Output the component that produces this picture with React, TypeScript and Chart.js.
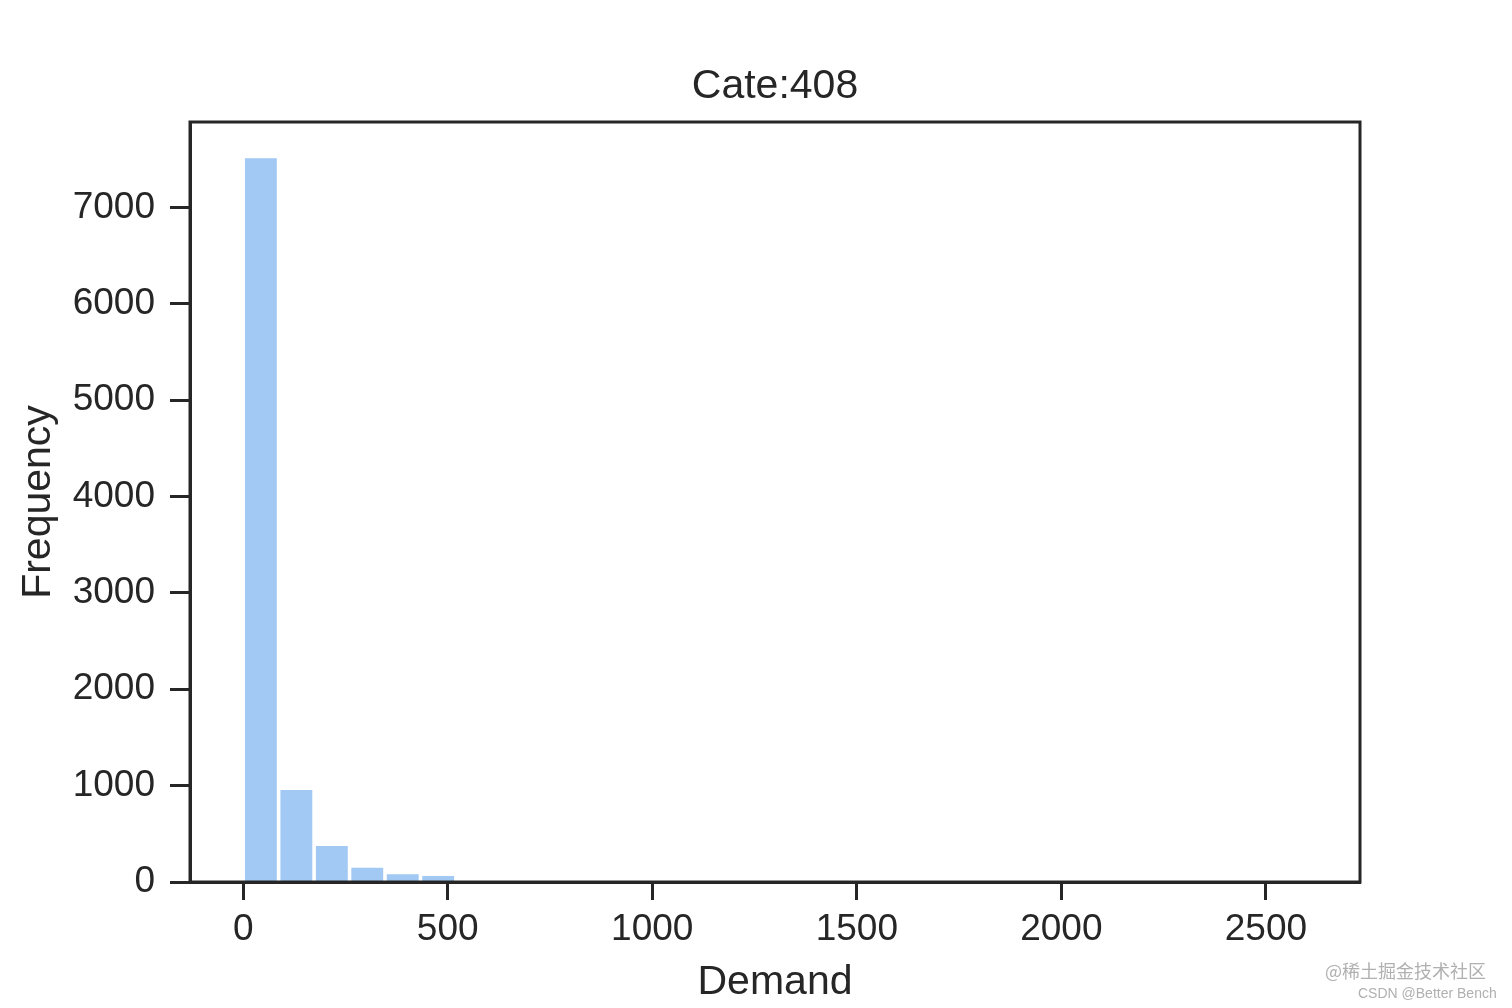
import React, { useEffect, useRef } from 'react';
import { Chart, registerables } from 'chart.js';

Chart.register(...registerables);

// Histogram bins (Demand) and their counts
const binCenters = [
  43.3, 130, 216.7, 303.3, 390, 476.7, 563.3, 650, 736.7, 823.3,
  910, 996.7, 1083.3, 1170, 1256.7, 1343.3, 1430, 1516.7, 1603.3, 1690,
  1776.7, 1863.3, 1950, 2036.7, 2123.3, 2210, 2296.7, 2383.3, 2470, 2556.7,
];
const frequencies = [
  7510, 954, 373, 148, 80, 62, 4, 3, 2, 2,
  1, 1, 1, 1, 0, 1, 0, 1, 0, 0,
  1, 0, 0, 0, 1, 0, 0, 0, 0, 1,
];
const xTickValues = [0, 500, 1000, 1500, 2000, 2500];
const yTickValues = [0, 1000, 2000, 3000, 4000, 5000, 6000, 7000];
const chartTitle = 'Cate:408';
const xLabel = 'Demand';
const yLabel = 'Frequency';
const watermark1 = '@稀土掘金技术社区';
const watermark2 = 'CSDN @Better Bench';

const FONT = '"Liberation Sans", Arial, Helvetica, sans-serif';
const INK = '#262626';
const BAR = '#a1c9f4';

const framePlugin = {
  id: 'frame',
  afterDraw(chart: any) {
    const { ctx, chartArea: a } = chart;
    ctx.save();
    ctx.strokeStyle = INK;
    ctx.lineWidth = 3;
    ctx.strokeRect(a.left, a.top, a.right - a.left, a.bottom - a.top);
    ctx.fillStyle = INK;
    ctx.font = `41px ${FONT}`;
    ctx.textAlign = 'center';
    ctx.textBaseline = 'middle';
    ctx.fillText(chartTitle, (a.left + a.right) / 2, 86.5);
    ctx.restore();
  },
};

export default function App() {
  const ref = useRef<HTMLCanvasElement | null>(null);

  useEffect(() => {
    if (!ref.current) return;
    const chart = new Chart(ref.current, {
      type: 'bar',
      data: {
        datasets: [
          {
            data: binCenters.map((x, i) => ({ x, y: frequencies[i] })),
            backgroundColor: BAR,
            borderWidth: 0,
            barPercentage: 0.9,
            categoryPercentage: 1,
          },
        ],
      },
      options: {
        responsive: false,
        animation: false,
        devicePixelRatio: 1,
        layout: { padding: { left: 0, right: 152, top: 122, bottom: 0 } },
        plugins: {
          legend: { display: false },
          tooltip: { enabled: false },
          title: { display: false },
        },
        scales: {
          x: {
            type: 'linear',
            min: -130,
            max: 2730,
            offset: false,
            afterFit(scale: any) {
              scale.height = 126;
            },
            afterBuildTicks(scale: any) {
              scale.ticks = xTickValues.map((v) => ({ value: v }));
            },
            grid: {
              display: true,
              offset: false,
              drawOnChartArea: false,
              drawTicks: true,
              tickLength: 18,
              tickWidth: 3,
              tickColor: INK,
            },
            border: { display: true, color: INK, width: 3 },
            ticks: {
              color: INK,
              font: { family: FONT, size: 37 },
              padding: 8,
              maxRotation: 0,
              autoSkip: false,
              callback: (v: any) => String(v),
            },
            title: {
              display: true,
              text: xLabel,
              color: INK,
              font: { family: FONT, size: 41 },
              padding: { top: 0, bottom: 1 },
            },
          },
          y: {
            type: 'linear',
            min: 0,
            max: 7885,
            afterFit(scale: any) {
              scale.width = 190;
            },
            afterBuildTicks(scale: any) {
              scale.ticks = yTickValues.map((v) => ({ value: v }));
            },
            grid: {
              display: true,
              offset: false,
              drawOnChartArea: false,
              drawTicks: true,
              tickLength: 20,
              tickWidth: 3,
              tickColor: INK,
            },
            border: { display: true, color: INK, width: 3 },
            ticks: {
              color: INK,
              font: { family: FONT, size: 37 },
              padding: 15,
              autoSkip: false,
              callback: (v: any) => String(v),
            },
            title: {
              display: true,
              text: yLabel,
              color: INK,
              font: { family: FONT, size: 41 },
              padding: { top: 14, bottom: 0 },
            },
          },
        },
      },
      plugins: [framePlugin],
    } as any);
    return () => chart.destroy();
  }, []);

  return (
    <div style={{ position: 'absolute', left: 0, top: 0, width: 1512, height: 1008, background: '#fff' }}>
      <canvas ref={ref} width={1512} height={1008} style={{ display: 'block' }} />
      <div
        style={{
          position: 'absolute',
          left: 1325,
          top: 957,
          fontFamily: '"Noto Sans CJK SC", sans-serif',
          fontSize: 18,
          color: '#b0b0b0',
          whiteSpace: 'nowrap',
        }}
      >
        {watermark1}
      </div>
      <div
        style={{
          position: 'absolute',
          left: 1358,
          top: 985,
          fontFamily: FONT,
          fontSize: 14,
          color: '#b0b0b0',
          whiteSpace: 'nowrap',
        }}
      >
        {watermark2}
      </div>
    </div>
  );
}
